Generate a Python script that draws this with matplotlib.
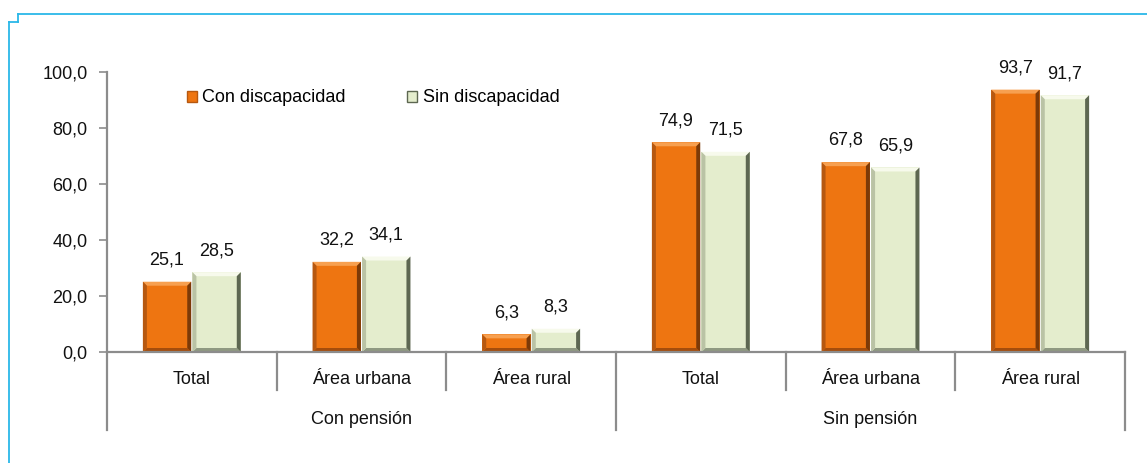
import matplotlib
matplotlib.use("Agg")
import matplotlib.pyplot as plt
from matplotlib.patches import Polygon, Patch
from matplotlib.lines import Line2D
import numpy as np

plt.rcParams['font.family'] = ['Liberation Sans', 'DejaVu Sans']
FS = 13

# ---- data ----
title = "2016"
categories = ["Total", "Área urbana", "Área rural", "Total", "Área urbana", "Área rural"]
groups = ["Con pensión", "Sin pensión"]
group_sizes = [3, 3]
series_names = ["Con discapacidad", "Sin discapacidad"]
con_disc = [25.1, 32.2, 6.3, 74.9, 67.8, 93.7]
sin_disc = [28.5, 34.1, 8.3, 71.5, 65.9, 91.7]
yticks = [0, 20, 40, 60, 80, 100]

# bevel palettes: body, top, left, right, bottom
orange = dict(body="#EE7511", top="#F7A050", left="#B65810", right="#7C3A08", bottom="#A54D0C")
green = dict(body="#E4EDCD", top="#F7FAEC", left="#BAC3A5", right="#5D6751", bottom="#8F9981")

W, H, DPI = 1147, 463, 100
fig = plt.figure(figsize=(W / DPI, H / DPI), dpi=DPI)
ax_left, ax_right, ax_top, ax_bot = 107, 1125, 72, 352
ax = fig.add_axes([ax_left / W, (H - ax_bot) / H, (ax_right - ax_left) / W, (ax_bot - ax_top) / H])

n = len(categories)
x = np.arange(n)
ax.set_xlim(-0.5, n - 0.5)
ax.set_ylim(0, 100)

bar_w = 0.285
offset = 0.146
bev_px = 4.0
px_x = (n) / (ax_right - ax_left)      # data units per pixel, x
px_y = 100.0 / (ax_bot - ax_top)       # data units per pixel, y


def bevel_bar(xc, h, pal):
    x0, x1 = xc - bar_w / 2, xc + bar_w / 2
    bx = bev_px * px_x
    by = min(bev_px * px_y, h / 3)
    ax.add_patch(Polygon([(x0, 0), (x1, 0), (x1, h), (x0, h)], closed=True,
                         facecolor=pal["body"], edgecolor="none", zorder=3))
    # top bevel
    ax.add_patch(Polygon([(x0, h), (x1, h), (x1 - bx, h - by), (x0 + bx, h - by)],
                         closed=True, facecolor=pal["top"], edgecolor="none", zorder=4))
    # bottom bevel
    ax.add_patch(Polygon([(x0, 0), (x1, 0), (x1 - bx, by), (x0 + bx, by)],
                         closed=True, facecolor=pal["bottom"], edgecolor="none", zorder=4))
    # left bevel
    ax.add_patch(Polygon([(x0, 0), (x0 + bx, by), (x0 + bx, h - by), (x0, h)],
                         closed=True, facecolor=pal["left"], edgecolor="none", zorder=4))
    # right bevel
    ax.add_patch(Polygon([(x1, 0), (x1 - bx, by), (x1 - bx, h - by), (x1, h)],
                         closed=True, facecolor=pal["right"], edgecolor="none", zorder=4))


def fmt(v):
    return f"{v:.1f}".replace(".", ",")


for xi, v in zip(x, con_disc):
    bevel_bar(xi - offset, v, orange)
    ax.annotate(fmt(v), (xi - offset, v), xytext=(0, 9.5), textcoords="offset points",
                ha="center", va="bottom", fontsize=FS, color="#111111", zorder=6)
for xi, v in zip(x, sin_disc):
    bevel_bar(xi + offset, v, green)
    ax.annotate(fmt(v), (xi + offset, v), xytext=(0, 9.5), textcoords="offset points",
                ha="center", va="bottom", fontsize=FS, color="#111111", zorder=6)

# axes styling
axis_col = "#8C8C8C"
for s in ["top", "right", "bottom", "left"]:
    ax.spines[s].set_visible(False)
ax.set_yticks(yticks)
ax.set_yticklabels([fmt(t) for t in yticks], fontsize=FS, color="#111111")
ax.tick_params(axis="y", length=6, width=1.2, color=axis_col, pad=8)
ax.set_xticks([])

trans = ax.get_xaxis_transform()
short_y = -(390 - ax_bot) / (ax_bot - ax_top)
long_y = -(430 - ax_bot) / (ax_bot - ax_top)
cat_y = -(380 - ax_bot) / (ax_bot - ax_top)
grp_y = -(419 - ax_bot) / (ax_bot - ax_top)

# horizontal baseline
ax.add_line(Line2D([-0.5, n - 0.5], [0, 0], transform=trans, color=axis_col,
                   lw=1.6, clip_on=False, zorder=5))
# left vertical axis down to the group row
ax.add_line(Line2D([-0.5, -0.5], [1, long_y], transform=trans, color=axis_col,
                   lw=1.6, clip_on=False, zorder=5))

# group boundaries (long) and category boundaries (short)
bounds = np.cumsum([0] + group_sizes) - 0.5
for i in range(1, n + 1):
    b = i - 0.5
    y_end = long_y if np.any(np.isclose(bounds, b)) else short_y
    ax.add_line(Line2D([b, b], [0, y_end], transform=trans, color=axis_col,
                       lw=1.6, clip_on=False, zorder=5))

for xi, c in zip(x, categories):
    ax.text(xi, cat_y, c, transform=trans, ha="center", va="center",
            fontsize=FS, color="#111111")
for gi, g in enumerate(groups):
    center = (bounds[gi] + bounds[gi + 1]) / 2
    ax.text(center, grp_y, g, transform=trans, ha="center", va="center",
            fontsize=FS, color="#111111")

# legend
handles = [Patch(facecolor=orange["body"], edgecolor=orange["left"], linewidth=1.0),
           Patch(facecolor=green["body"], edgecolor=green["right"], linewidth=1.0)]
leg = ax.legend(handles, series_names, loc="center left", ncol=2, frameon=False,
                bbox_to_anchor=((187 - ax_left) / (ax_right - ax_left),
                                (ax_bot - 98) / (ax_bot - ax_top)),
                fontsize=FS, handlelength=0.55, handleheight=0.55,
                handletextpad=0.3, columnspacing=3.4, borderaxespad=0, borderpad=0)

# title, clipped at the top edge
fig.text(582 / W, 1 - 3 / H, title, ha="center", va="bottom", fontsize=FS,
         fontweight="bold", color="#111111")

# frame decoration
cyan = "#2BB8E8"
fig.add_artist(Line2D([18 / W, 1], [1 - 14 / H] * 2, color=cyan, lw=1.3))
fig.add_artist(Line2D([18 / W, 18 / W], [1 - 14 / H, 1 - 22 / H], color=cyan, lw=1.3))
fig.add_artist(Line2D([9 / W, 18 / W], [1 - 22 / H] * 2, color=cyan, lw=1.3))
fig.add_artist(Line2D([9 / W, 9 / W], [1 - 22 / H, 0], color=cyan, lw=1.3))

fig.savefig("out.png", dpi=DPI)
